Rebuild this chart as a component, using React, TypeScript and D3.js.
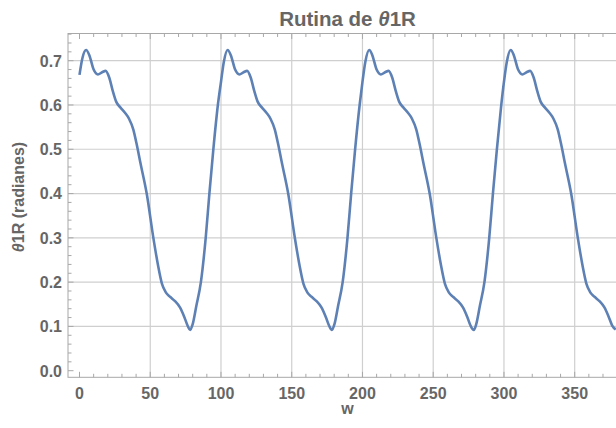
import React from "react";
import * as d3 from "d3";

const W = 616;
const H = 428;

const wValues = [
  0, 2, 4.7, 7, 10, 13, 16, 18.5, 21, 23.5, 26, 29, 32, 35, 38, 40.5, 43, 47.5, 52.2, 55.5, 58.3, 61, 64, 67.5, 71, 74, 76.5, 78.2, 80, 82.5, 85.8, 89.2, 91.8, 94.6, 97.8,
  100, 102, 104.7, 107, 110, 113, 116, 118.5, 121, 123.5, 126, 129, 132, 135, 138, 140.5, 143, 147.5, 152.2, 155.5, 158.3, 161, 164, 167.5, 171, 174, 176.5, 178.4, 180.2, 182.7, 186, 189.4, 192, 194.8, 198,
  200, 202, 204.8, 207, 210, 213, 216, 218.5, 221, 223.5, 226, 229, 232, 235, 238, 240.5, 243, 247.5, 252.2, 255.5, 258.3, 261, 264, 267.5, 271, 274, 276.5, 278.7, 280.4, 282.9, 286.2, 289.6, 292.2, 295, 298.1,
  300, 302, 304.8, 307, 310, 313, 316, 318.5, 321, 323.5, 326, 329, 332, 335, 338, 340.5, 343, 347.5, 352.2, 355.5, 358.3, 361, 364, 367.5, 371, 374, 376.5, 379
];
const thetaValues = [
  0.668, 0.705, 0.724, 0.712, 0.68, 0.669, 0.674, 0.677, 0.662, 0.632, 0.607, 0.594, 0.583, 0.569, 0.545, 0.51, 0.47, 0.4, 0.3, 0.238, 0.196, 0.177, 0.167, 0.157, 0.143, 0.122, 0.101, 0.092, 0.105, 0.145, 0.2, 0.3, 0.4, 0.5, 0.6,
  0.652, 0.697, 0.724, 0.712, 0.68, 0.669, 0.674, 0.677, 0.662, 0.632, 0.607, 0.594, 0.583, 0.569, 0.545, 0.51, 0.47, 0.4, 0.3, 0.238, 0.196, 0.177, 0.167, 0.157, 0.143, 0.122, 0.101, 0.092, 0.105, 0.145, 0.2, 0.3, 0.4, 0.5, 0.6,
  0.652, 0.697, 0.724, 0.712, 0.68, 0.669, 0.674, 0.677, 0.662, 0.632, 0.607, 0.594, 0.583, 0.569, 0.545, 0.51, 0.47, 0.4, 0.3, 0.238, 0.196, 0.177, 0.167, 0.157, 0.143, 0.122, 0.101, 0.092, 0.105, 0.145, 0.2, 0.3, 0.4, 0.5, 0.6,
  0.652, 0.697, 0.724, 0.712, 0.68, 0.669, 0.674, 0.677, 0.662, 0.632, 0.607, 0.594, 0.583, 0.569, 0.545, 0.51, 0.47, 0.4, 0.3, 0.238, 0.196, 0.177, 0.167, 0.157, 0.143, 0.122, 0.102, 0.093
];

const xMajorTicks = [0, 50, 100, 150, 200, 250, 300, 350];
const xTickLabels = ["0", "50", "100", "150", "200", "250", "300", "350"];
const yMajorTicks = [0, 0.1, 0.2, 0.3, 0.4, 0.5, 0.6, 0.7];
const yTickLabels = ["0.0", "0.1", "0.2", "0.3", "0.4", "0.5", "0.6", "0.7"];

const titleText = "Rutina de ";
const xLabel = "w";

export default function App() {
  const left = 68;
  const top = 33.5;
  const bottom = 377.3;
  const right = 627;

  const x = d3.scaleLinear().domain([0, 350]).range([79.5, 574.7]);
  const y = d3.scaleLinear().domain([0, 0.7]).range([370.7, 60.7]);

  const data = wValues.map((w, i) => ({ w, t: thetaValues[i] }));
  const line = d3
    .line<{ w: number; t: number }>()
    .x((d) => x(d.w))
    .y((d) => y(d.t))
    .curve(d3.curveMonotoneX);

  const xMinor = d3.range(0, 380, 10);
  const yMinor = d3.range(0, 0.77, 0.02);

  const textColor = "#666666";
  const frameColor = "#a8a8a8";
  const gridColor = "#cfcfcf";
  const font = "Liberation Sans, Arial, sans-serif";

  return (
    <div style={{ position: "fixed", left: 0, top: 0, width: W, height: H, background: "#fff" }}>
      <svg width={W} height={H} style={{ display: "block" }}>
        <defs>
          <clipPath id="plotclip">
            <rect x={left} y={top} width={right - left} height={bottom - top} />
          </clipPath>
        </defs>
        {/* grid */}
        {xMajorTicks.filter((v) => v !== 0).map((v) => (
          <line key={"gx" + v} x1={x(v)} x2={x(v)} y1={top} y2={bottom} stroke={gridColor} strokeWidth={1.2} />
        ))}
        {yMajorTicks.filter((v) => v !== 0).map((v) => (
          <line key={"gy" + v} x1={left} x2={right} y1={y(v)} y2={y(v)} stroke={gridColor} strokeWidth={1.2} />
        ))}
        {/* frame */}
        <rect x={left} y={top} width={right - left} height={bottom - top} fill="none" stroke={frameColor} strokeWidth={1} />
        {/* x ticks bottom & top */}
        {xMinor.map((v) => {
          const major = v % 50 === 0;
          const len = major ? 5.5 : 3.5;
          return (
            <g key={"xt" + v}>
              <line x1={x(v)} x2={x(v)} y1={bottom} y2={bottom - len} stroke={frameColor} strokeWidth={1} />
              <line x1={x(v)} x2={x(v)} y1={top} y2={top + len} stroke={frameColor} strokeWidth={1} />
            </g>
          );
        })}
        {/* y ticks left */}
        {yMinor.map((v, i) => {
          const major = i % 5 === 0;
          const len = major ? 5.5 : 3.5;
          return <line key={"yt" + i} x1={left} x2={left + len} y1={y(v)} y2={y(v)} stroke={frameColor} strokeWidth={1} />;
        })}
        {/* curve */}
        <path d={line(data) || ""} fill="none" stroke="#5E81B5" strokeWidth={2.6} clipPath="url(#plotclip)" strokeLinejoin="round" />
        {/* tick labels */}
        {xMajorTicks.map((v, i) => (
          <text key={"xl" + v} x={x(v)} y={398.5} textAnchor="middle" fontFamily={font} fontWeight="bold" fontSize={16} fill={textColor}>
            {xTickLabels[i]}
          </text>
        ))}
        {yMajorTicks.map((v, i) => (
          <text key={"yl" + v} x={62} y={y(v) + 5.8} textAnchor="end" fontFamily={font} fontWeight="bold" fontSize={16} fill={textColor}>
            {yTickLabels[i]}
          </text>
        ))}
        {/* title */}
        <text x={347.5} y={26} textAnchor="middle" fontFamily={font} fontWeight="bold" fontSize={20.5} fill={textColor}>
          {titleText}
          <tspan fontStyle="italic">θ</tspan>
          1R
        </text>
        {/* axis labels */}
        <text x={347.5} y={414} textAnchor="middle" fontFamily={font} fontWeight="bold" fontSize={16} fill={textColor}>
          {xLabel}
        </text>
        <text transform={`translate(24, 197) rotate(-90)`} textAnchor="middle" fontFamily={font} fontWeight="bold" fontSize={16} fill={textColor}>
          <tspan fontStyle="italic">θ</tspan>1R (radianes)
        </text>
      </svg>
    </div>
  );
}
